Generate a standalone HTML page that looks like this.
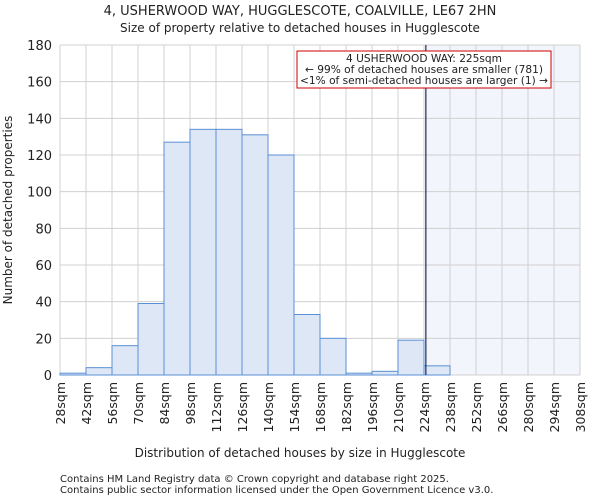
<!DOCTYPE html>
<html><head><meta charset="utf-8"><style>
body{margin:0;background:#fff;font-family:"DejaVu Sans","Liberation Sans",sans-serif;}
svg text{font-family:"DejaVu Sans","Liberation Sans",sans-serif;fill:#222;}
</style></head><body>
<svg id="c" width="600" height="500" xmlns="http://www.w3.org/2000/svg">
<text x="300" y="15" text-anchor="middle" font-size="13">4, USHERWOOD WAY, HUGGLESCOTE, COALVILLE, LE67 2HN</text>
<text x="300" y="32" text-anchor="middle" font-size="12">Size of property relative to detached houses in Hugglescote</text>
<g id="plot"></g>
<text x="300" y="457" text-anchor="middle" font-size="12">Distribution of detached houses by size in Hugglescote</text>
<text transform="translate(12,210) rotate(-90)" text-anchor="middle" font-size="12">Number of detached properties</text>
<text x="60" y="482" font-size="10">Contains HM Land Registry data © Crown copyright and database right 2025.</text>
<text x="60" y="493" font-size="10">Contains public sector information licensed under the Open Government Licence v3.0.</text>
</svg>
<script>
const binStarts=[28,42,56,70,84,98,112,126,140,154,168,182,196,210,224,238,252,266,280,294];
const counts=[1,4,16,39,127,134,134,131,120,33,20,1,2,19,5,0,0,0,0,0];
const yTicks=[0,20,40,60,80,100,120,140,160,180];
const xTickLabels=[28,42,56,70,84,98,112,126,140,154,168,182,196,210,224,238,252,266,280,294,308];
const propertySize=225;
const X0=60,X1=580,Y0=375,Y1=45,xmin=28,xmax=308,ymax=180;
const sx=v=>X0+(v-xmin)/(xmax-xmin)*(X1-X0);
const sy=v=>Y0-v/ymax*(Y0-Y1);
const NS="http://www.w3.org/2000/svg";
const g=document.getElementById('plot');
function mk(t,a){const e=document.createElementNS(NS,t);for(const k in a)e.setAttribute(k,a[k]);g.appendChild(e);return e;}
let e;
e=mk('rect',{x:sx(propertySize),y:Y1,width:X1-sx(propertySize),height:Y0-Y1,fill:'#f3f5fc'});


yTicks.forEach(t=>{
 e=mk('line',{x1:X0,x2:X1,y1:sy(t),y2:sy(t),stroke:'#d0d0d0','stroke-width':1});
 
 
 e=mk('text',{x:X0-8,y:sy(t)+5,'text-anchor':'end','font-size':13});
 e.textContent=t;
 
 
});
xTickLabels.forEach(t=>{
 e=mk('line',{x1:sx(t),x2:sx(t),y1:Y1,y2:Y0,stroke:'#d0d0d0','stroke-width':1});
 
 
 e=mk('text',{transform:`translate(${sx(t)+5},${Y0+7}) rotate(-90)`,'text-anchor':'end','font-size':12.5});
 e.textContent=t+'sqm';
 
 
});
binStarts.forEach((b,i)=>{
 if(counts[i]<=0)return;
 e=mk('rect',{x:sx(b),y:sy(counts[i]),width:sx(b+14)-sx(b),height:Y0-sy(counts[i]),fill:'#dee7f5',stroke:'#5b8fd6','stroke-width':1});
 
 
});
e=mk('line',{x1:sx(propertySize),x2:sx(propertySize),y1:Y1,y2:Y0,stroke:'#1f2a5a','stroke-width':1.2});


e=mk('rect',{x:297,y:51,width:254,height:37,fill:'#fff',stroke:'#c00','stroke-width':1});


['4 USHERWOOD WAY: 225sqm','← 99% of detached houses are smaller (781)','<1% of semi-detached houses are larger (1) →'].forEach((s,i)=>{
 e=mk('text',{x:424,y:62+i*11,'text-anchor':'middle','font-size':10.6});
 e.textContent=s;
 
 
});
</script>
</body></html>
